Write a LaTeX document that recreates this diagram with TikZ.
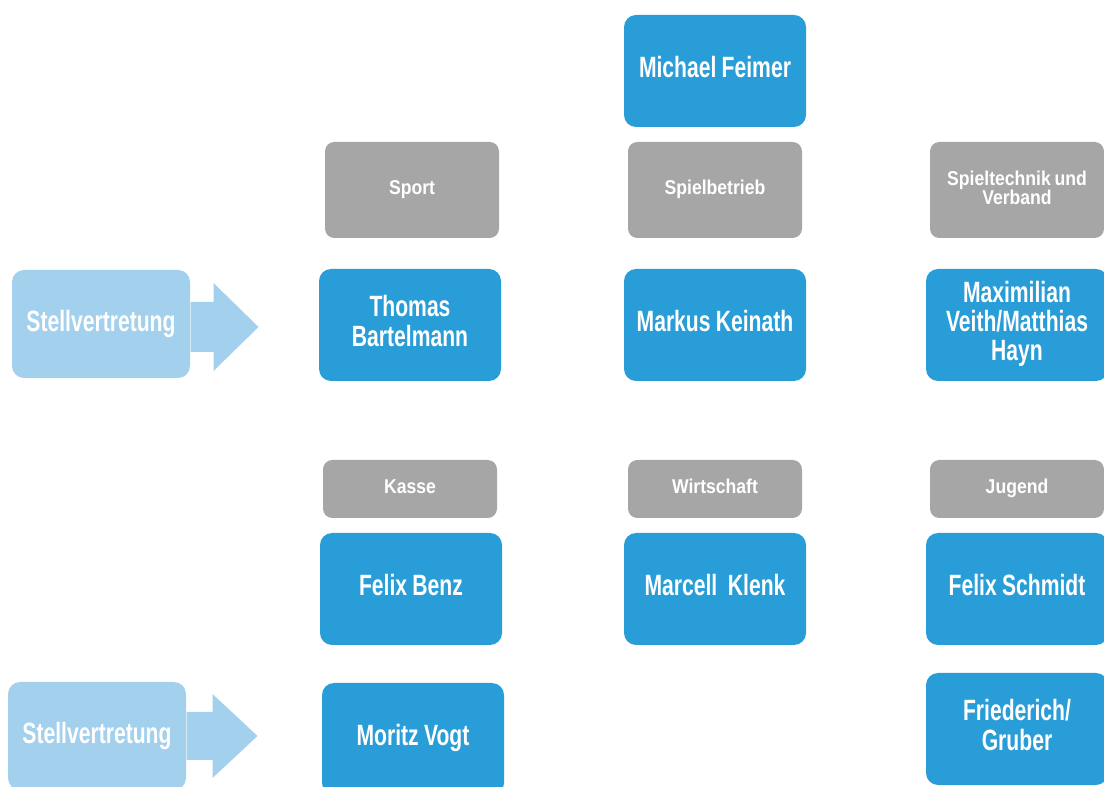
\documentclass[tikz,border=0pt]{standalone}
\usepackage{fontspec}
\setmainfont{Liberation Sans}[FakeStretch=0.72]
\newfontfamily\rolefam{Liberation Sans}[FakeStretch=0.88]
\definecolor{boxblue}{RGB}{41,157,215}
\definecolor{boxgrey}{RGB}{166,166,166}
\definecolor{paleblue}{RGB}{163,208,237}
\newcommand\namefont{\fontsize{22}{21}\selectfont\bfseries}
\newcommand\rolefont{\rolefam\fontsize{15}{12}\selectfont\bfseries}
% centred lines, narrow word space
\newcommand\lines[1]{\fontdimen2\font=0.18em\relax\begin{tabular}{@{}c@{}}#1\end{tabular}}
\tikzset{every picture/.style={line width=0.75pt}}

\begin{document}
\begin{tikzpicture}[x=0.75pt,y=0.75pt,yscale=-1,xscale=1,
    namebox/.style={fill=boxblue, rounded corners=9pt, minimum width=136.5pt, minimum height=84pt, inner sep=0pt, text=white, font=\namefont},
    rolebox/.style={fill=boxgrey, rounded corners=7pt, minimum width=130.5pt, inner sep=0pt, text=white, font=\rolefont},
    stvbox/.style={fill=paleblue, rounded corners=9pt, minimum width=133.5pt, minimum height=81pt, inner sep=0pt, text=white, font=\namefont}]
    \useasboundingbox (0,0) rectangle (1104,787);

    %Head
    \node[namebox] (feimer) at (715,71) {\lines{Michael Feimer}};

    %Roles, first row
    \node[rolebox, minimum height=72pt] (sport) at (412,190) {\lines{Sport}};
    \node[rolebox, minimum height=72pt] (spielbetrieb) at (715,190) {\lines{Spielbetrieb}};
    \node[rolebox, minimum height=72pt] (spieltechnik) at (1017,190) {\lines{Spieltechnik und\\Verband}};

    %Names, first row
    \node[namebox] (bartelmann) at (410,325) {\lines{Thomas\\Bartelmann}};
    \node[namebox] (keinath) at (715,325) {\lines{Markus Keinath}};
    \node[namebox] (veith) at (1017,325) {\lines{Maximilian\\Veith/Matthias\\Hayn}};

    %Roles, second row
    \node[rolebox, minimum height=43.5pt] (kasse) at (410,489) {\lines{Kasse}};
    \node[rolebox, minimum height=43.5pt] (wirtschaft) at (715,489) {\lines{Wirtschaft}};
    \node[rolebox, minimum height=43.5pt] (jugend) at (1017,489) {\lines{Jugend}};

    %Names, second row
    \node[namebox] (benz) at (411,589) {\lines{Felix Benz}};
    \node[namebox] (klenk) at (715,589) {\lines{Marcell\ \ Klenk}};
    \node[namebox] (schmidt) at (1017,589) {\lines{Felix Schmidt}};

    %Names, third row
    \node[namebox] (vogt) at (413,739) {\lines{Moritz Vogt}};
    \node[namebox] (gruber) at (1017,729) {\lines{Friederich/\\Gruber}};

    %Stellvertretung
    \node[stvbox] (stvA) at (101,324) {Stellvertretung};
    \node[stvbox] (stvB) at (97,736) {Stellvertretung};

    %Block arrows
    \fill[paleblue] (stvA.east) ++(0,-22) -- ++(23,0) -- ++(0,-19) -- ++(45,44) -- ++(-45,44) -- ++(0,-19) -- ++(-23,0) -- cycle;
    \fill[paleblue] (stvB.east) ++(0,-24) -- ++(26,0) -- ++(0,-18) -- ++(45,42) -- ++(-45,42) -- ++(0,-18) -- ++(-26,0) -- cycle;

\end{tikzpicture}
\end{document}
